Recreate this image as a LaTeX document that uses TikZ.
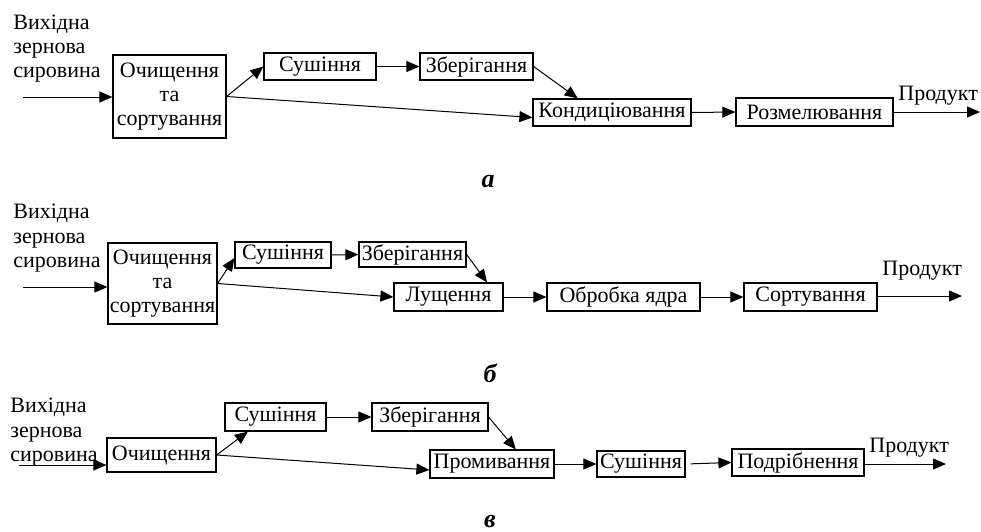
\documentclass[tikz,border=0pt]{standalone}
\usepackage{fontspec}
\setmainfont{Liberation Serif}
\usetikzlibrary{arrows.meta,calc}
\begin{document}
\begin{tikzpicture}[x=0.5pt,y=-0.5pt,
  every node/.style={font=\fontsize{11}{12}\selectfont},
  stage/.style={draw,line width=0.6pt,inner sep=0pt,align=center},
  flow/.style={line width=0.5pt,-{Triangle[length=6.5pt,width=5.5pt]}},
  lbl/.style={inner sep=0pt,anchor=base west},
  panel/.style={inner sep=0pt,anchor=base,font=\fontsize{13}{15}\selectfont\bfseries\itshape}]
\useasboundingbox (0,0) rectangle (981,531);
% ---------- panel a ----------
\node[lbl] (ta1) at (13,29) {Вихідна};
\node[lbl] (ta2) at (13,53) {зернова};
\node[lbl] (ta3) at (13,77) {сировина};
\node[stage,minimum width=56.5pt,minimum height=41.5pt] (oa) at (169.5,96.5) {Очищення\\та\\сортування};
\node[stage,minimum width=56pt,minimum height=13.5pt] (sa) at (320,66.5) {Сушіння};
\node[stage,minimum width=56.5pt,minimum height=13.5pt] (za) at (476.5,66.5) {Зберігання};
\node[stage,minimum width=79pt,minimum height=13.5pt] (ka) at (612,112.5) {Кондиціювання};
\node[stage,minimum width=78.5pt,minimum height=14pt] (ra) at (814.5,112) {Розмелювання};
\coordinate (ina) at (23,97);
\coordinate (outa) at (980,112);
\node[lbl] (pa) at (898,100) {Продукт};
\node[panel] (la) at (488,187) {а};
\draw[flow] (ina) -- (ina -| oa.west);
\draw[flow] (oa.east) -- (sa.west);
\draw[flow] (oa.east) -- ([yshift=-2.5pt]ka.west);
\draw[flow] (sa.east) -- (za.west);
\draw[flow] (za.east) -- ($(ka.north west)!0.285!(ka.north east)$);
\draw[flow] (ka.east) -- (ra.west);
\draw[flow] (ra.east) -- (outa);
% ---------- panel b ----------
\node[lbl] (tb1) at (13,218) {Вихідна};
\node[lbl] (tb2) at (13,243) {зернова};
\node[lbl] (tb3) at (13,267) {сировина};
\node[stage,minimum width=54.5pt,minimum height=40.5pt] (ob) at (162.5,283.5) {Очищення\\та\\сортування};
\node[stage,minimum width=48pt,minimum height=13pt] (sb) at (283,255) {Сушіння};
\node[stage,minimum width=53.5pt,minimum height=12.5pt] (zb) at (412.5,254.5) {Зберігання};
\node[stage,minimum width=54.5pt,minimum height=14pt] (lb) at (448.5,297) {Лущення};
\node[stage,minimum width=76.5pt,minimum height=14pt] (obr) at (623.5,297) {Обробка ядра};
\node[stage,minimum width=66.5pt,minimum height=14pt] (srt) at (810.5,297) {Сортування};
\coordinate (inb) at (23,287);
\coordinate (outb) at (962,296);
\node[lbl] (pb) at (882,275) {Продукт};
\node[panel] (lbb) at (490,382) {б};
\draw[flow] (inb) -- (inb -| ob.west);
\draw[flow] (ob.east) -- ([yshift=-1.5pt]sb.west);
\draw[flow] (ob.east) -- (lb.west);
\draw[flow] (sb.east) -- (zb.west);
\draw[flow] (zb.east) -- ($(lb.north west)!0.85!(lb.north east)$);
\draw[flow] (lb.east) -- (obr.west);
\draw[flow] (obr.east) -- (srt.west);
\draw[flow] (srt.east |- outb) -- (outb);
% ---------- panel c ----------
\node[lbl] (tc1) at (10,412) {Вихідна};
\node[lbl] (tc2) at (10,437) {зернова};
\node[lbl] (tc3) at (10,461) {сировина};
\node[stage,minimum width=54.5pt,minimum height=17pt] (oc) at (161.5,455) {Очищення};
\node[stage,minimum width=50.5pt,minimum height=14pt] (sc) at (275.5,417) {Сушіння};
\node[stage,minimum width=58pt,minimum height=14pt] (zc) at (430,417) {Зберігання};
\node[stage,minimum width=62pt,minimum height=14pt] (pc) at (492,464) {Промивання};
\node[stage,minimum width=44pt,minimum height=13pt] (s2c) at (641,464) {Сушіння};
\node[stage,minimum width=66pt,minimum height=13.5pt] (dc) at (798,462.5) {Подрібнення};
\coordinate (inc) at (19,465);
\coordinate (outc) at (946,464);
\node[lbl] (pcx) at (869,452) {Продукт};
\node[panel] (lc) at (490,527) {в};
\draw[flow] (inc) -- (inc -| oc.west);
\draw[flow] (oc.east) -- ($(sc.south west)!0.23!(sc.south east)$);
\draw[flow] (oc.east) -- ([yshift=-3pt]pc.west);
\draw[flow] (sc.east) -- (zc.west);
\draw[flow] (zc.east) -- ($(pc.north west)!0.69!(pc.north east)$);
\draw[flow] (pc.east) -- (s2c.west);
\draw[flow,shorten <=2.5pt] (s2c.east) -- (dc.west);
\draw[flow] (dc.east |- outc) -- (outc);
\end{tikzpicture}
\end{document}
